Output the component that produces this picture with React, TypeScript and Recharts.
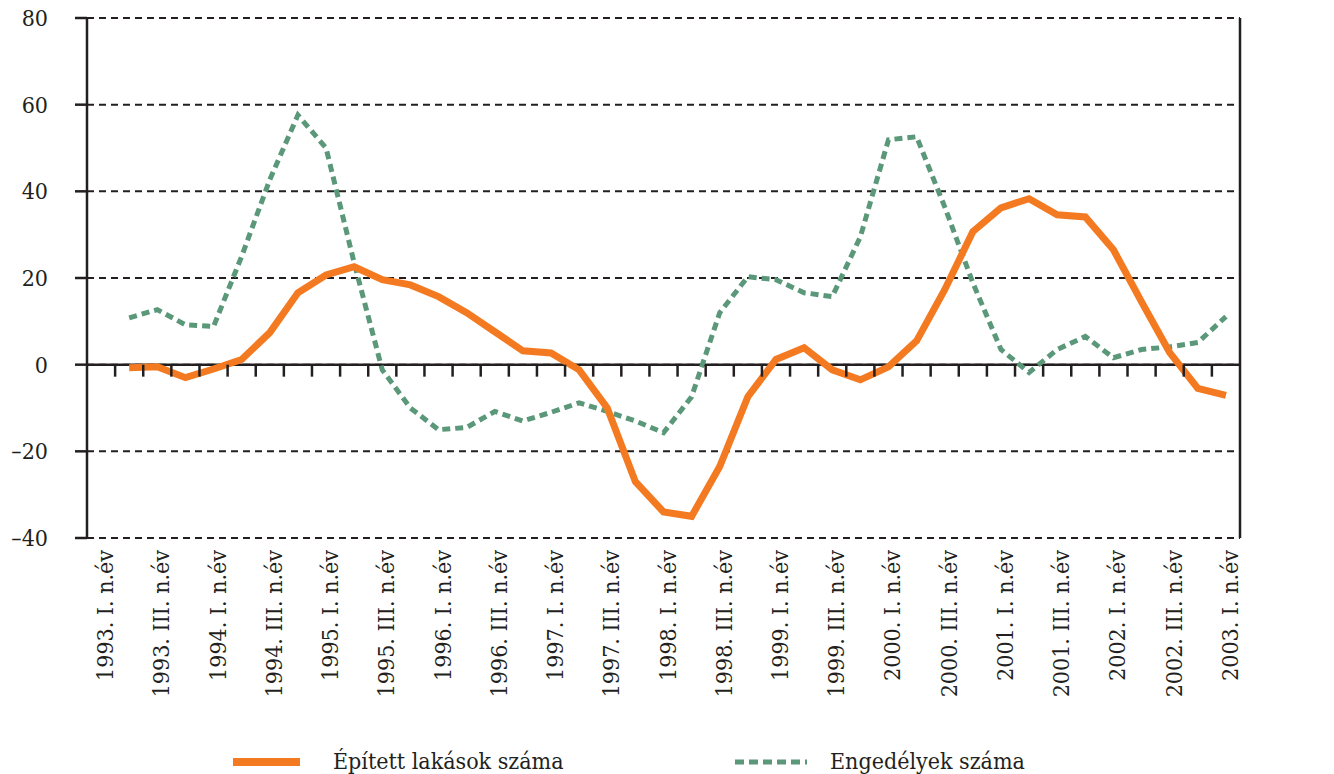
import React from "react";
import { ComposedChart, Line, XAxis, YAxis, CartesianGrid, ReferenceLine } from "recharts";

// negyedévek 1993 I. - 2003 I.
const quarters = [
  "1993. I. n.év", "1993. II. n.év", "1993. III. n.év", "1993. IV. n.év",
  "1994. I. n.év", "1994. II. n.év", "1994. III. n.év", "1994. IV. n.év",
  "1995. I. n.év", "1995. II. n.év", "1995. III. n.év", "1995. IV. n.év",
  "1996. I. n.év", "1996. II. n.év", "1996. III. n.év", "1996. IV. n.év",
  "1997. I. n.év", "1997. II. n.év", "1997. III. n.év", "1997. IV. n.év",
  "1998. I. n.év", "1998. II. n.év", "1998. III. n.év", "1998. IV. n.év",
  "1999. I. n.év", "1999. II. n.év", "1999. III. n.év", "1999. IV. n.év",
  "2000. I. n.év", "2000. II. n.év", "2000. III. n.év", "2000. IV. n.év",
  "2001. I. n.év", "2001. II. n.év", "2001. III. n.év", "2001. IV. n.év",
  "2002. I. n.év", "2002. II. n.év", "2002. III. n.év", "2002. IV. n.év",
  "2003. I. n.év",
];

const epitett = [
  null, -0.7, -0.5, -3, -1, 1.2, 7.4, 16.6, 20.7, 22.6, 19.6, 18.4, 15.7, 12, 7.6, 3.2, 2.7, -1.2, -10, -27,
  -34, -35, -23.5, -7.4, 1.2, 3.9, -1.2, -3.5, -0.5, 5.5, 17.3, 30.7, 36.2, 38.3, 34.6, 34.1, 26.5, 14.5, 2.8,
  -5.5, -7.1,
];

const engedely = [
  null, 10.8, 12.7, 9.2, 8.8, 25, 42.7, 57.6, 50, 23.5, -1.2, -10, -15, -14.5, -10.8, -13, -11, -8.8, -10.8, -13,
  -15.7, -7.4, 12, 20.3, 19.6, 16.6, 15.7, 29.5, 51.9, 52.6, 36.4, 18.9, 3.5, -1.8, 3.5, 6.5, 1.6, 3.5, 4.1, 5.1,
  11.1,
];

const yTicks = [-40, -20, 0, 20, 40, 60, 80];

const data = quarters.map((q, i) => ({ q, epitett: epitett[i], engedely: engedely[i] }));

const INK = "#231f20";
const ORANGE = "#f47a21";
const GREEN = "#5a9879";
const FONT = "'DejaVu Serif Condensed', 'DejaVu Serif', serif";
const textStyle = { fontFamily: FONT, fontStretch: "condensed" as const };

const W = 1334;
const H = 740;
const TOP = 18;
const LEFT_W = 87;
const RIGHT_W = 94;
const X_H = 202;
const PLOT_W = W - LEFT_W - RIGHT_W;
const PLOT_H = H - TOP - X_H;
const step = PLOT_W / quarters.length;
const zeroY = TOP + (PLOT_H * 80) / 120;

const fmt = (v: number) => (v < 0 ? `–${-v}` : `${v}`);

function QuarterTick(props: any) {
  const { x, y, payload, index } = props;
  return (
    <g>
      {index > 0 && (
        <line x1={x - step / 2} x2={x - step / 2} y1={zeroY} y2={zeroY + 12} stroke={INK} strokeWidth={2.5} />
      )}
      {index % 2 === 0 && (
        <text
          transform={`translate(${x + 12},${y + 12}) rotate(-90)`}
          textAnchor="end"
          style={{ ...textStyle, fontSize: 23 }}
          fill={INK}
        >
          {payload.value}
        </text>
      )}
    </g>
  );
}

export default function App() {
  return (
    <div style={{ position: "absolute", left: 0, top: 0, width: W, height: 774, background: "#fff" }}>
      <ComposedChart width={W} height={H} data={data} margin={{ top: TOP, right: 0, bottom: 0, left: 0 }}>
        <CartesianGrid yAxisId="left" vertical={false} stroke={INK} strokeWidth={2} strokeDasharray="7 5" />
        <XAxis
          dataKey="q"
          scale="band"
          interval={0}
          height={X_H}
          axisLine={false}
          tickLine={false}
          tickSize={0}
          tickMargin={0}
          tick={<QuarterTick />}
        />
        <YAxis
          yAxisId="left"
          domain={[-40, 80]}
          ticks={yTicks}
          width={LEFT_W}
          tickFormatter={fmt}
          axisLine={{ stroke: INK, strokeWidth: 2.5 }}
          tickLine={{ stroke: INK, strokeWidth: 2.5 }}
          tickSize={12}
          tickMargin={27}
          tick={{ fill: INK, fontSize: 23, style: textStyle }}
        />
        <YAxis
          yAxisId="right"
          orientation="right"
          domain={[-40, 80]}
          ticks={yTicks}
          width={RIGHT_W}
          tickFormatter={fmt}
          axisLine={{ stroke: INK, strokeWidth: 2.5 }}
          tickLine={{ stroke: INK, strokeWidth: 2.5 }}
          tickSize={12}
          tickMargin={31}
          tick={{ fill: INK, fontSize: 23, style: textStyle }}
        />
        <ReferenceLine yAxisId="left" y={0} stroke={INK} strokeWidth={2.5} />
        <Line
          yAxisId="left"
          dataKey="engedely"
          stroke={GREEN}
          strokeWidth={5}
          strokeDasharray="8 5"
          dot={false}
          isAnimationActive={false}
        />
        <Line
          yAxisId="left"
          dataKey="epitett"
          stroke={ORANGE}
          strokeWidth={7}
          dot={false}
          isAnimationActive={false}
        />
      </ComposedChart>
      <div style={{ position: "absolute", top: 746, left: 0, width: W, height: 28, fontSize: 23, color: INK, ...textStyle }}>
        <div style={{ position: "absolute", left: 233, top: 12, width: 67, height: 8, background: ORANGE }} />
        <div style={{ position: "absolute", left: 333, top: 0, lineHeight: "30px", whiteSpace: "nowrap" }}>Épített lakások száma</div>
        <svg style={{ position: "absolute", left: 735, top: 11 }} width={72} height={10}>
          <line x1={0} x2={72} y1={5} y2={5} stroke={GREEN} strokeWidth={5} strokeDasharray="9 5" />
        </svg>
        <div style={{ position: "absolute", left: 830, top: 0, lineHeight: "30px", whiteSpace: "nowrap" }}>Engedélyek száma</div>
      </div>
    </div>
  );
}
